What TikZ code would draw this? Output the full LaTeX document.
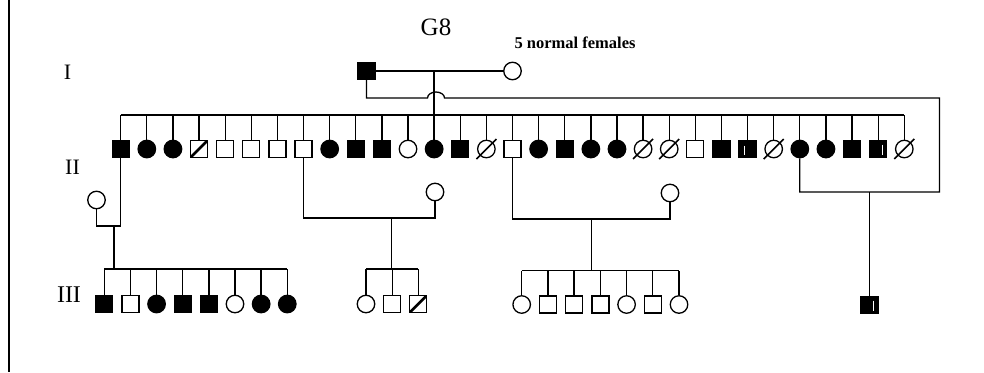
\documentclass[tikz,border=0pt]{standalone}
\usepackage{fontspec}
\setmainfont{Liberation Serif}
\begin{document}
\begin{tikzpicture}[x=1bp,y=-1bp,line width=1.3bp,
  sym/.style={draw,inner sep=0pt,line width=1.3bp},
  pm/.style={sym,rectangle,minimum size=17bp},
  pf/.style={sym,circle,minimum size=17.5bp},
  pma/.style={pm,fill=black},
  pfa/.style={pf,fill=black},
  pmd/.style={pm,path picture={\draw[line width=2.6bp] (path picture bounding box.south west) -- (path picture bounding box.north east);}},
  pfd/.style={pf},
  pmw/.style={pma,path picture={\draw[white,line width=1bp] ([xshift=-3bp,yshift=-5bp]path picture bounding box.north) -- ([xshift=-3bp,yshift=3bp]path picture bounding box.south);}},
  pmw2/.style={pma,path picture={\draw[white,line width=1bp] ([xshift=4bp,yshift=-4bp]path picture bounding box.north) -- ([xshift=4bp,yshift=3bp]path picture bounding box.south);}},
  slashline/.style={line width=1.6bp},
  lbl/.style={font=\fontsize{22bp}{26bp}\selectfont,inner sep=0pt}
]
\useasboundingbox (0,0) rectangle (984,372);
% left frame line
\draw[line width=2bp] (9,0) -- (9,372);

% labels
\node[font=\fontsize{25bp}{30bp}\selectfont,inner sep=0pt] (g8) at (436,27) {G8};
\node[lbl] (gI) at (67.5,72) {I};
\node[lbl] (gII) at (72.5,167) {II};
\node[lbl,font=\fontsize{24bp}{28bp}\selectfont] (gIII) at (69,295) {III};
\node[font=\fontsize{16.5bp}{19bp}\selectfont\bfseries,inner sep=0pt] (nf) at (575,43) {5 normal females};

% generation I
\node[pma] (i1) at (366.5,71) {};
\node[pf] (i2) at (512.5,71) {};
\draw (i1) -- (i2);

% generation II
\foreach \t [count=\i] in {pma,pfa,pfa,pmd,pm,pm,pm,pm,pfa,pma,pma,pf,pfa,pma,pfd,pm,pfa,pma,pfa,pfa,pfd,pfd,pm,pma,pmw,pfd,pfa,pfa,pma,pmw2,pfd}
  \node[\t] (b\i) at ({120.7+26.12*(\i-1)},149) {};
\foreach \i in {15,21,22,26,31}
  \draw[slashline] ([shift={(-10,10)}]b\i.center) -- ([shift={(10,-10)}]b\i.center);

\coordinate (barII) at (0,115);
\draw (b1.north |- barII) -- (b31.north |- barII);
\foreach \i in {1,...,31}
  \draw (b\i.north) -- (b\i.north |- barII);
\draw (b13.north |- i1) -- (b13.north |- barII);

% line from I to II-27 with a hop
\coordinate (h1) at (427.5,98);
\coordinate (h2) at (444.5,98);
\coordinate (rc1) at (939.5,98);
\coordinate (rc2) at (939.5,192);
\draw (i1.south) |- (h1) arc[start angle=180,end angle=360,x radius=8.5,y radius=6] -- (rc1) -- (rc2) -- (b27.south |- rc2) -- (b27.south);

% spouses gen II
\node[pf] (s1) at (96.5,200) {};
\node[pf] (s2) at (435,192) {};
\node[pf] (s3) at (670,193) {};

\coordinate (m1) at (0,226);
\coordinate (m2) at (0,218);
\coordinate (m3) at (0,219);
\draw (b1.south) -- (b1.south |- m1) -- (s1.south |- m1) -- (s1.south);
\draw (b8.south) -- (b8.south |- m2) -- (s2.south |- m2) -- (s2.south);
\draw (b16.south) -- (b16.south |- m3) -- (s3.south |- m3) -- (s3.south);

% generation III
\coordinate (d1) at (114,226);
\coordinate (d2) at (391.7,218);
\coordinate (d3) at (591.7,219);
\coordinate (bar1) at (0,269);
\coordinate (bar2) at (0,269);
\coordinate (bar3) at (0,270.5);

\foreach \t [count=\i] in {pma,pm,pfa,pma,pma,pf,pfa,pfa}
  \node[\t] (c\i) at ({104.3+26.14*(\i-1)},304) {};
\foreach \t [count=\i] in {pf,pm,pmd}
  \node[\t] (e\i) at ({366+26.15*(\i-1)},304) {};
\foreach \t [count=\i] in {pf,pm,pm,pm,pf,pm,pf}
  \node[\t] (k\i) at ({521.7+26.22*(\i-1)},304.5) {};
\node[pmw2] (r1) at (869.5,305) {};

\draw (d1) -- (d1 |- bar1);
\draw (c1.north |- bar1) -- (c8.north |- bar1);
\foreach \i in {1,...,8} \draw (c\i.north) -- (c\i.north |- bar1);

\draw (d2) -- (d2 |- bar2);
\draw (e1.north |- bar2) -- (e3.north |- bar2);
\foreach \i in {1,...,3} \draw (e\i.north) -- (e\i.north |- bar2);

\draw (d3) -- (d3 |- bar3);
\draw (k1.north |- bar3) -- (k7.north |- bar3);
\foreach \i in {1,...,7} \draw (k\i.north) -- (k\i.north |- bar3);

\draw (r1.north |- rc2) -- (r1.north);
\end{tikzpicture}
\end{document}
